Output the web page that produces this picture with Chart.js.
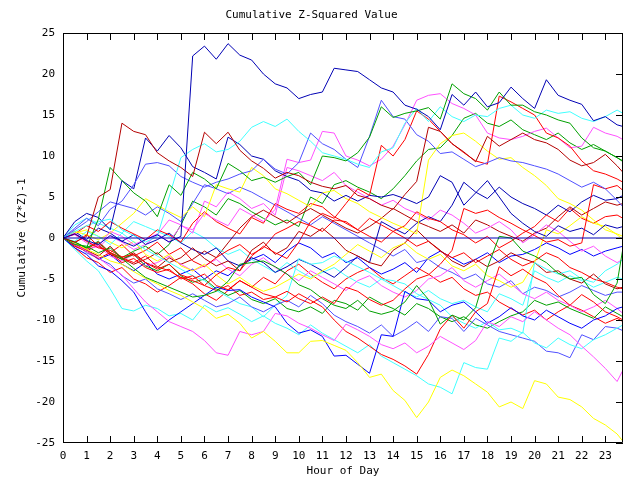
<!DOCTYPE html>
<html>
<head>
<meta charset="utf-8">
<script src="https://cdn.jsdelivr.net/npm/chart.js@4.4.1/dist/chart.umd.min.js"></script>
<style>
  html, body { margin: 0; padding: 0; background: #fff; }
  canvas { display: block; }
</style>
</head>
<body>
<canvas id="chartarea" width="640" height="480"></canvas>
<script>
// hours of the day, sampled every half hour (last sample 23:45)
const hours = [0,0.5,1,1.5,2,2.5,3,3.5, 4,4.5,5,5.5,6,6.5,7,7.5, 8,8.5,9,9.5,10,10.5,11,11.5,
  12,12.5,13,13.5,14,14.5,15,15.5, 16,16.5,17,17.5,18,18.5,19,19.5, 20,20.5,21,21.5,22,22.5,23,23.5, 23.75];
const hourTicks = [0,1,2,3,4,5,6,7,8,9,10,11,12,13,14,15,16,17,18,19,20,21,22,23];
const valueTicks = [-25,-20,-15,-10,-5,0,5,10,15,20,25];
const zeroHours = [0, 23.75];
const zeroLine = [0, 0];

// cumulative (z*z)-1 per run
const s01 = [0,0.5,-0.3,-0.8,0.3,-0.4,-1.0,-0.2, 0.4,-0.5,0.2,22.2,23.4,21.8,23.7,22.3, 21.7,20.0,18.8,18.3,17.0,17.5,17.8,20.7,
  20.5,20.3,19.3,18.3,17.8,16.2,15.7,14.8, 13.2,17.5,16.2,17.8,16.0,16.5,18.4,17.0, 15.8,19.3,17.4,16.8,16.3,14.3,14.8,13.8, 13.6];
const s02 = [0,-0.5,0.2,5.0,5.9,14.0,13.0,12.6, 10.4,9.4,8.6,7.5,12.9,11.5,12.9,10.7, 9.4,8.5,7.3,8.0,7.6,6.8,6.3,6.0,
  6.4,5.2,4.8,4.0,3.5,5.3,6.9,13.5, 13.0,11.5,10.5,9.3,12.4,11.2,12.0,12.8, 12.0,11.6,10.8,9.5,8.8,9.2,10.2,8.8, 8.0];
const s03 = [0,-0.5,-1.2,2.3,8.6,7.0,5.5,4.5, 2.6,6.5,5.2,8.0,7.2,6.0,9.1,8.2, 7.0,7.4,6.8,7.5,8.0,6.5,10.0,9.8,
  9.4,10.4,12.3,16.0,14.7,15.2,15.5,15.9, 14.5,18.8,17.6,17.0,15.6,17.8,16.2,16.2, 15.4,15.0,14.4,14.0,12.2,11.0,10.6,9.8, 9.3];
const s04 = [0,-0.8,-1.0,-1.8,-1.2,-2.5,-3.7,-4.8, -5.4,-6.0,-6.6,-7.2,-7.0,-6.5,-5.3,-3.2, -3.0,-2.8,-3.5,-4.4,-5.7,-6.3,-7.4,-8.2,
  -8.6,-7.6,-8.9,-9.3,-8.9,-7.8,-5.8,-7.5, -10.5,-9.4,-10.0,-8.5,-3.6,0.2,0.0,-1.6, -2.2,-3.0,-4.3,-5.0,-4.8,-6.9,-8.0,-5.5, -1.2];
const s05 = [0,-0.6,-1.4,-2.0,-2.8,-3.2,-4.1,-4.9, -5.6,-6.4,-7.0,-7.8,-8.6,-9.8,-9.3,-10.4, -12.2,-11.4,-12.6,-14.0,-14.0,-12.6,-12.5,-13.1,
  -13.7,-15.2,-17.0,-16.6,-18.6,-19.8,-21.9,-20.0, -17.0,-16.1,-16.8,-17.8,-18.8,-20.6,-20.0,-20.8, -17.4,-17.8,-19.4,-19.7,-20.6,-22.0,-22.8,-23.9, -24.8];
const s06 = [0,-0.8,-1.6,-2.4,-3.5,-4.5,-6.2,-7.8, -9.0,-10.2,-10.8,-11.4,-12.5,-14.0,-14.3,-11.4, -11.8,-11.4,-9.2,-9.5,-10.4,-11.0,-11.8,-12.5,
  -10.5,-11.2,-12.0,-13.0,-13.5,-12.8,-14.0,-13.2, -12.0,-12.8,-13.6,-12.5,-10.2,-10.8,-9.6,-10.2, -9.0,-10.0,-11.0,-11.8,-13.2,-14.5,-15.9,-17.5, -16.1];
const s07 = [0,0.8,1.5,2.0,2.3,1.0,0.3,-0.5, 0.2,5.0,9.8,10.8,11.5,10.5,10.8,11.8, 13.5,14.2,13.6,14.5,13.0,11.8,10.4,10.0,
  9.6,9.0,8.6,10.5,11.0,14.0,15.8,14.2, 16.0,14.8,14.2,15.0,14.8,15.8,16.2,15.0, 14.6,15.6,15.2,15.4,14.6,14.2,14.8,15.6, 15.2];
const s08 = [0,1.2,2.4,1.5,3.5,4.5,6.5,9.0, 9.2,8.8,7.5,6.8,6.2,6.8,7.2,7.8, 8.2,9.6,8.4,7.8,9.2,12.8,11.5,10.8,
  9.6,8.6,12.4,16.8,14.8,14.5,12.6,11.8, 10.3,10.5,9.6,8.7,9.2,9.8,9.4,9.2, 8.8,8.4,7.8,7.0,6.2,6.8,6.0,4.6, 3.8];
const s09 = [0,-0.8,-1.4,-0.5,-1.8,-2.4,-3.0,-2.2, -3.5,-4.0,-4.8,-5.2,-5.8,-4.5,-3.6,-4.0, -2.2,-1.0,-1.8,-2.5,-0.5,2.0,3.0,2.4,
  4.2,6.0,5.2,11.3,10.0,12.0,15.5,14.5, 13.0,11.5,10.4,9.4,9.0,17.3,16.6,15.8, 15.0,12.8,12.2,11.2,9.4,8.2,7.8,7.2, 6.8];
const s10 = [0,0.5,-0.4,-1.2,-1.5,-2.3,-2.0,-3.0, -3.8,-3.2,-4.5,-5.0,-4.4,-5.8,-6.3,-5.2, -6.0,-6.8,-7.2,-6.5,-7.4,-8.0,-7.2,-8.0,
  -6.0,-6.5,-7.5,-8.2,-7.6,-6.2,-5.0,-4.5, -3.2,-1.5,3.6,3.0,3.4,2.5,1.8,1.0, 0.3,-0.5,-0.2,-1.0,-0.6,6.5,6.0,6.4, 5.8];
const s11 = [0,2.0,3.0,2.5,1.0,7.0,6.0,12.2, 10.6,12.5,11.0,8.7,8.0,7.2,12.3,11.4, 10.0,9.6,8.2,7.5,7.0,5.8,5.5,4.5,
  5.2,4.5,5.2,5.0,5.3,4.8,4.2,5.0, 7.6,6.8,4.0,5.5,7.0,5.0,3.0,1.8, 0.8,0.2,1.5,0.8,1.2,0.4,1.6,1.2, 1.4];
const s12 = [0,-1.2,-2.0,-3.4,-4.0,-5.2,-6.6,-9.0, -11.2,-10.0,-9.0,-8.0,-7.0,-6.0,-6.4,-6.3, -7.2,-7.8,-8.4,-10.4,-11.6,-11.2,-12.0,-14.4,
  -14.3,-15.4,-16.5,-11.8,-12.0,-6.5,-7.4,-7.6, -9.0,-8.2,-7.8,-9.0,-10.4,-9.6,-8.5,-9.5, -10.0,-8.8,-9.6,-10.4,-11.0,-10.0,-9.5,-8.6, -8.4];
const s13 = [0,-1.0,-1.6,-2.5,-1.8,-3.0,-2.5,-3.6, -4.2,-3.8,-5.0,-4.6,-5.8,-6.4,-5.8,-7.0, -6.6,-7.5,-7.2,-7.8,-6.8,-7.6,-8.4,-10.0,
  -11.4,-12.2,-13.2,-14.2,-14.8,-15.6,-16.6,-14.2, -11.1,-9.4,-11.0,-9.0,-8.0,-3.5,-4.6,-3.8, -4.8,-5.5,-7.0,-8.2,-6.9,-7.8,-9.0,-9.6, -10.0];
const s14 = [0,-1.4,-2.8,-4.0,-6.2,-8.6,-8.9,-8.2, -8.6,-9.5,-9.2,-10.0,-8.2,-9.0,-8.5,-9.3, -10.2,-9.5,-10.4,-11.0,-11.8,-10.6,-11.6,-12.4,
  -13.2,-14.0,-13.0,-14.4,-15.2,-16.0,-16.8,-17.8, -18.2,-19.0,-15.2,-15.8,-16.0,-12.2,-12.6,-11.5, -12.8,-13.4,-12.2,-13.0,-13.5,-12.4,-11.8,-11.0, -10.6];
const s15 = [0,-0.6,-1.8,-2.5,-3.2,-4.6,-5.5,-5.0, -6.2,-6.8,-7.5,-6.8,-7.6,-8.4,-8.0,-7.2, -8.4,-9.0,-8.2,-7.6,-8.4,-7.0,-8.0,-9.4,
  -10.2,-10.8,-11.6,-10.6,-12.0,-11.2,-10.2,-11.4, -9.6,-9.8,-11.4,-9.8,-10.6,-11.4,-11.8,-12.2, -12.6,-13.8,-14.0,-14.6,-11.8,-12.4,-10.8,-11.0, -11.3];
const s16 = [0,0.6,-0.4,-1.0,0.8,0.2,-0.8,-0.2, 0.5,-0.5,1.5,1.0,3.0,2.2,1.5,3.6, 2.8,2.0,3.5,9.6,9.2,9.5,13.0,12.8,
  10.0,9.5,8.8,9.6,11.2,13.8,16.8,17.4, 17.6,16.4,15.8,15.0,12.8,12.2,12.0,12.4, 13.0,13.4,12.2,11.0,11.2,13.5,12.8,12.4, 12.0];
const s17 = [0,-0.4,0.8,0.2,-0.8,0.6,-0.5,-1.4, -2.2,-3.0,-3.8,-4.6,-5.2,-6.4,-7.2,-8.0, -8.4,-9.6,-8.2,-7.0,-2.5,-3.2,-3.0,-2.2,
  -2.8,-3.5,-4.2,-5.0,-5.2,-5.6,-6.8,-7.5, -8.2,-9.6,-10.4,-11.0,-10.2,-11.2,-11.0,-11.6, -3.0,-3.8,-4.4,-4.0,-5.0,-5.4,-4.0,-3.2, -2.6];
const s18 = [0,0.8,0.4,-0.2,0.6,1.8,3.0,4.8, 4.0,3.2,2.5,3.8,2.6,6.5,6.0,5.6, 8.6,7.6,6.0,5.4,4.6,3.8,5.5,5.8,
  4.8,4.2,3.2,2.5,1.8,1.2,0.5,9.5, 11.5,12.5,12.8,11.8,10.6,9.6,9.8,8.6, 7.6,6.4,4.8,4.2,3.4,2.2,1.0,0.5, 0.2];
const s19 = [0,0.6,1.0,0.2,-0.5,-1.2,-0.4,-2.0, -2.8,-2.0,-3.4,-4.0,-3.2,-4.5,-5.6,-4.8, -5.8,-6.5,-6.0,-5.2,-4.4,-5.0,-4.0,-3.2,
  -2.0,-0.8,-1.6,-2.4,-1.2,-0.6,-1.8,-2.6, -2.0,-3.4,-4.0,-3.2,-4.6,-5.2,-6.0,-5.4, -3.0,1.0,0.5,1.5,2.6,1.8,1.4,0.4, -0.2];
const s20 = [0,-0.6,0.4,-1.0,-1.8,-0.8,-2.2,-1.5, -0.5,-2.0,-1.2,-2.8,-3.5,-2.4,-1.5,-0.8, -2.0,-1.2,0.5,1.2,2.0,1.5,0.8,2.2,
  2.0,1.0,0.2,-0.5,0.8,1.5,3.2,2.4, 2.0,1.0,0.4,-0.6,0.2,-1.2,-0.4,0.6, 1.4,2.8,2.0,3.6,2.4,1.8,2.6,2.8, 2.4];
const s21 = [0,-0.8,-1.5,-2.2,-1.0,-2.5,-3.2,-2.6, -1.8,-3.0,-2.4,-1.2,-2.5,-3.4,-2.8,-4.0, -1.5,-0.5,-2.0,-1.2,0.8,0.2,1.2,0.0,
  -1.5,-2.2,-3.0,-3.4,-1.5,-0.6,1.0,-0.4, -1.5,-2.8,-3.5,-2.6,-3.5,-2.8,-1.8,-2.5, -3.0,-4.2,-4.0,-5.0,-5.5,-4.4,-5.6,-6.2, -6.0];
const s22 = [0,0.5,1.5,0.8,2.0,1.2,0.5,-0.2, 1.0,0.4,-0.5,1.8,3.2,2.0,1.2,0.5, 2.5,1.8,4.2,3.5,3.0,4.2,3.8,2.6,
  1.8,1.0,2.4,1.6,0.8,0.0,-1.0,-0.4, -1.6,-2.4,-1.8,-3.0,-2.2,-1.4,-2.6,-3.4, -2.8,-1.8,-2.4,-3.6,-4.2,-5.0,-5.4,-6.0, -6.2];
const s23 = [0,-0.5,-1.2,-0.6,-1.8,-2.6,-2.0,-3.4, -4.0,-3.2,-4.6,-5.4,-5.0,-6.2,-7.0,-6.4, -7.5,-8.0,-7.4,-8.6,-9.0,-8.4,-9.2,-7.6,
  -8.0,-8.8,-7.2,-8.0,-8.6,-9.4,-8.0,-8.6, -9.6,-10.2,-9.6,-10.6,-11.0,-10.2,-9.5,-9.0, -7.6,-8.2,-7.8,-8.6,-9.2,-9.8,-8.4,-9.2, -9.6];
const s24 = [0,0.8,-0.2,1.2,0.6,-0.4,0.4,-0.8, -0.2,0.6,-0.6,-1.4,-2.0,-1.2,-2.8,-3.4, -2.4,-3.0,-4.2,-3.5,-2.6,-3.2,-4.0,-4.8,
  -3.6,-2.2,-3.0,2.0,1.2,0.5,1.8,2.6, 2.0,4.0,6.8,5.6,4.8,6.2,5.0,4.2, 3.6,2.8,4.0,3.2,4.4,5.2,4.6,4.8, 5.2];
const s25 = [0,-0.6,-1.4,-1.0,-2.2,-2.8,-2.0,-3.4, -3.0,-2.2,-3.2,-4.0,-3.4,-2.6,-3.8,-4.6, -3.2,-2.4,-3.6,-4.4,-5.2,-4.0,-4.8,-5.6,
  -6.4,-5.2,-4.6,-5.8,-6.6,-7.2,-6.4,-5.0, -4.6,-3.6,-5.2,-6.0,-5.2,-4.4,-5.6,-6.8, -7.4,-6.6,-7.6,-8.2,-9.0,-8.4,-7.6,-8.6, -9.2];
const s26 = [0,0.4,-0.6,-1.2,0.2,-0.5,-1.4,-0.8, 0.4,2.2,1.6,0.6,4.5,3.8,5.6,4.8, 3.6,4.2,2.8,8.6,8.2,7.6,7.0,8.0,
  6.4,5.6,4.8,4.0,4.6,3.6,3.0,2.2, 3.4,2.8,1.8,0.6,1.2,2.0,1.0,-0.6, 0.4,1.6,0.8,-0.4,-1.6,-1.0,-2.2,-3.0, -2.6];
const s27 = [0,1.6,2.4,1.8,1.2,0.6,2.0,1.4, 0.8,0.2,-0.6,0.8,0.0,-1.2,-2.0,-1.4, -2.6,-3.4,-4.2,-3.0,-4.0,-4.8,-4.2,-3.6,
  -4.6,-5.4,-6.0,-5.0,-5.8,-6.6,-7.2,-6.4, -7.4,-8.0,-7.6,-8.4,-9.0,-6.8,-7.4,-8.2, -4.0,-4.8,-5.4,-4.6,-5.2,-6.0,-5.4,-4.8, -5.0];
const s28 = [0,-1.0,-1.6,-0.8,-2.0,-2.6,-1.8,-3.0, -3.6,-2.4,-3.2,-2.6,-1.6,-2.4,-0.6,1.2, 2.6,3.4,2.6,1.8,2.8,3.6,2.8,2.0,
  1.2,0.6,1.4,2.4,3.6,2.8,2.0,1.4, 0.8,1.6,0.6,2.2,1.6,0.8,0.2,-0.4, 0.6,1.2,2.6,3.8,2.8,3.6,4.4,4.0, 4.2];
const s29 = [0,1.0,2.0,3.2,4.4,4.0,3.6,2.8, 3.8,3.0,2.0,4.2,6.5,6.0,5.4,6.2, 5.6,4.8,4.0,3.2,2.4,1.6,2.6,1.8,
  1.0,0.2,-0.6,-1.4,-2.2,-1.4,-3.0,-2.6, -3.6,-4.2,-5.0,-4.4,-5.6,-6.0,-5.2,-6.8, -6.0,-6.4,-7.2,-6.6,-5.8,-6.4,-7.0,-6.6, -6.6];
const s30 = [0,-0.8,-1.5,-2.6,-2.0,-3.2,-4.0,-3.0, -4.4,-5.0,-4.4,-3.8,-5.0,-4.0,-4.6,-3.4, -2.6,-2.0,-3.0,-1.6,-0.6,-1.2,-2.4,-1.8,
  -3.0,-2.4,-3.6,-4.4,-3.8,-3.0,-4.2,-2.4, -1.6,-2.4,-3.2,-2.6,-1.8,-3.0,-2.2,-2.0, -1.4,-0.6,-1.2,-2.0,-1.4,-2.2,-1.6,-1.2, -1.0];
const s31 = [0,-0.8,-1.2,-0.4,-1.8,-2.4,-1.6,-1.0, -2.0,-0.8,1.6,4.5,3.8,2.8,4.8,4.2, 3.2,2.4,1.6,2.2,1.4,5.0,4.2,6.5,
  7.0,6.2,5.6,4.8,6.0,7.6,9.4,10.8, 11.0,12.5,14.6,15.2,14.0,13.6,14.4,13.2, 12.6,12.0,12.8,11.6,10.8,11.4,10.6,9.8, 9.4];
const s32 = [0,-1.2,-2.4,-3.0,-4.2,-3.6,-5.0,-5.6, -6.6,-5.8,-4.8,-5.6,-6.8,-7.6,-6.4,-5.2, -6.0,-4.8,-5.6,-4.0,-3.2,-4.4,-5.4,-6.2,
  -5.0,-4.2,-3.6,-4.8,-5.6,-4.6,-3.6,-4.4, -5.4,-4.8,-6.2,-7.0,-6.6,-7.8,-8.6,-9.4, -8.8,-10.0,-9.0,-8.2,-8.8,-9.6,-10.4,-9.8, -10.2];

const navy="#0000b4", blue="#0000ff", lblue="#5050ff", red="#ff0000", dred="#b40000",
      green="#00a000", magenta="#ff50ff", cyan="#40ffff", yellow="#ffff00";

const runs = [
  [s01,navy],[s02,dred],[s03,green],[s04,green],[s05,yellow],[s06,magenta],[s07,cyan],[s08,lblue],
  [s09,red],[s10,red],[s11,navy],[s12,blue],[s13,red],[s14,cyan],[s15,lblue],[s16,magenta],
  [s17,cyan],[s18,yellow],[s19,yellow],[s20,red],[s21,dred],[s22,red],[s23,green],[s24,navy],
  [s25,magenta],[s26,magenta],[s27,cyan],[s28,dred],[s29,lblue],[s30,blue],[s31,green],[s32,red]
];

const font = "'DejaVu Sans Mono', monospace";

const datasets = [{
  data: zeroHours.map((h,i)=>({x:h, y:zeroLine[i]})),
  borderColor: "#0000b4", borderWidth: 1, pointRadius: 0
}];
let i=0;
while(i<runs.length)
{
  const vals=runs[i][0];
  datasets.push({
    data: vals.map((v,k)=>({x:hours[k], y:v})),
    borderColor: runs[i][1],
    borderWidth: 1,
    pointRadius: 0,
    tension: 0
  });
  i++;
}

// black frame, with ticks pointing inward on the top, bottom and right sides
const frame = {
  id: "frame",
  afterDatasetsDraw(chart) {
    const {ctx, chartArea: a, scales: {x, y}} = chart;
    ctx.save();
    ctx.strokeStyle = "#000";
    ctx.lineWidth = 1;
    ctx.beginPath();
    ctx.rect(a.left + 0.5, a.top + 0.5, a.right - a.left - 1, a.bottom - a.top - 1);
    hourTicks.forEach(h => {
      const px = Math.round(x.getPixelForValue(h)) + 0.5;
      ctx.moveTo(px, a.bottom); ctx.lineTo(px, a.bottom - 7);
      ctx.moveTo(px, a.top); ctx.lineTo(px, a.top + 7);
    });
    valueTicks.forEach(v => {
      const py = Math.round(y.getPixelForValue(v)) + 0.5;
      ctx.moveTo(a.right, py); ctx.lineTo(a.right - 7, py);
    });
    ctx.stroke();
    ctx.restore();
  }
};

new Chart(document.querySelector("#chartarea"), {
  type: "line",
  data: { datasets },
  plugins: [frame],
  options: {
    responsive: false,
    animation: false,
    devicePixelRatio: 1,
    layout: { padding: { left: 0, right: 17, top: 0, bottom: 0 } },
    plugins: {
      legend: { display: false },
      tooltip: { enabled: false },
      title: {
        display: true,
        text: "Cumulative Z-Squared Value",
        color: "#000",
        font: { family: font, size: 11, weight: "normal", lineHeight: 1.2 },
        padding: { top: 8.4, bottom: 11.4 }
      }
    },
    scales: {
      x: {
        type: "linear",
        min: 0,
        max: 23.75,
        grid: { display: false, drawTicks: false },
        border: { display: false },
        afterBuildTicks: s => { s.ticks = hourTicks.map(v => ({ value: v })); },
        afterFit: s => { s.height = 37; },
        ticks: { color: "#000", font: { family: font, size: 11 }, padding: 7, autoSkip: false, maxRotation: 0 },
        title: {
          display: true, text: "Hour of Day", color: "#000",
          font: { family: font, size: 11, lineHeight: 1.2 },
          padding: { top: 0, bottom: 2.4 }
        }
      },
      y: {
        type: "linear",
        min: -25,
        max: 25,
        grid: { display: false, drawTicks: false },
        border: { display: false },
        afterBuildTicks: s => { s.ticks = valueTicks.map(v => ({ value: v })); },
        afterFit: s => { s.width = 63; },
        ticks: { color: "#000", font: { family: font, size: 11 }, padding: 8 },
        title: {
          display: true, text: "Cumulative (Z*Z)-1", color: "#000",
          font: { family: font, size: 11, lineHeight: 1.2 },
          padding: { top: 15.9, bottom: 0 }
        }
      }
    }
  }
});
</script>
</body>
</html>
